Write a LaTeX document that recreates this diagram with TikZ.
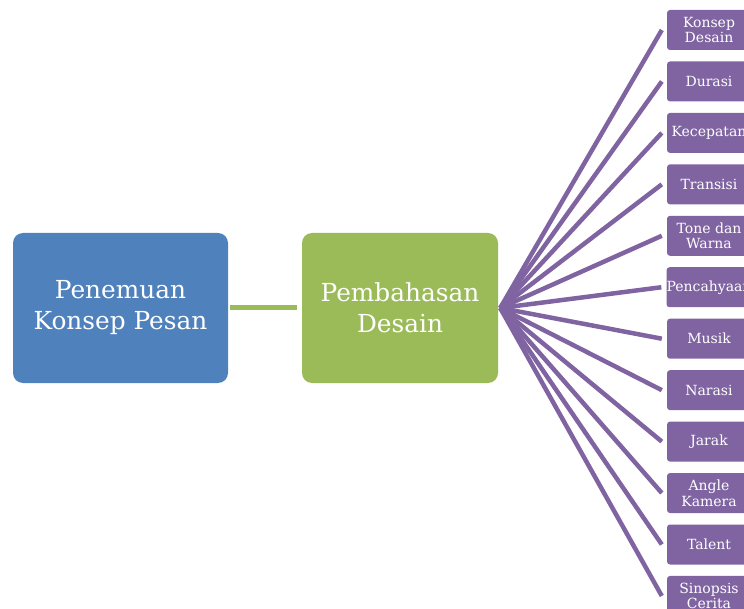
\documentclass[tikz,border=0pt]{standalone}
\usepackage{fontspec}
\setmainfont{DejaVu Serif}
\definecolor{cblue}{HTML}{4F81BD}
\definecolor{cgreen}{HTML}{9BBB59}
\definecolor{cpurple}{HTML}{8064A2}
\begin{document}
\begin{tikzpicture}[x=1pt,y=-1pt,
  bigbox/.style={draw=none, rounded corners=10pt, minimum height=150pt, inner sep=0pt, align=center, text=white, font=\fontsize{24.8}{31}\selectfont},
  subbox/.style={fill=cpurple, rounded corners=3pt, minimum width=84pt, minimum height=40pt, inner sep=0pt, align=center, text=white, font=\fontsize{14}{15.5}\selectfont},
  purpline/.style={draw=cpurple, line width=4.5pt},
  greenline/.style={draw=cgreen, line width=5pt}]
\useasboundingbox (0,0) rectangle (744,609);
\clip (0,0) rectangle (744,609);
\node[bigbox, fill=cblue, minimum width=215pt] (a) at (120.5,308) {Penemuan\\Konsep Pesan};
\node[bigbox, fill=cgreen, minimum width=196pt] (g) at (400,308) {Pembahasan\\Desain};
\coordinate (ga) at ([xshift=2pt]a.east);
\coordinate (gb) at ([xshift=-5pt]g.west);
\draw[greenline] (ga) -- (gb);
\coordinate (hub) at ([xshift=2pt]g.east);
\foreach \t [count=\i from 0] in {{Konsep\\Desain},{Durasi},{Kecepatan},{Transisi},{Tone dan\\Warna},{Pencahyaan},{Musik},{Narasi},{Jarak},{Angle\\Kamera},{Talent},{Sinopsis\\Cerita}}{
  \node[subbox] (s\i) at (709,{30+51.45*\i}) {\t};
  \draw[purpline] (hub) -- ([xshift=-5pt]s\i.west);
}
\end{tikzpicture}
\end{document}
